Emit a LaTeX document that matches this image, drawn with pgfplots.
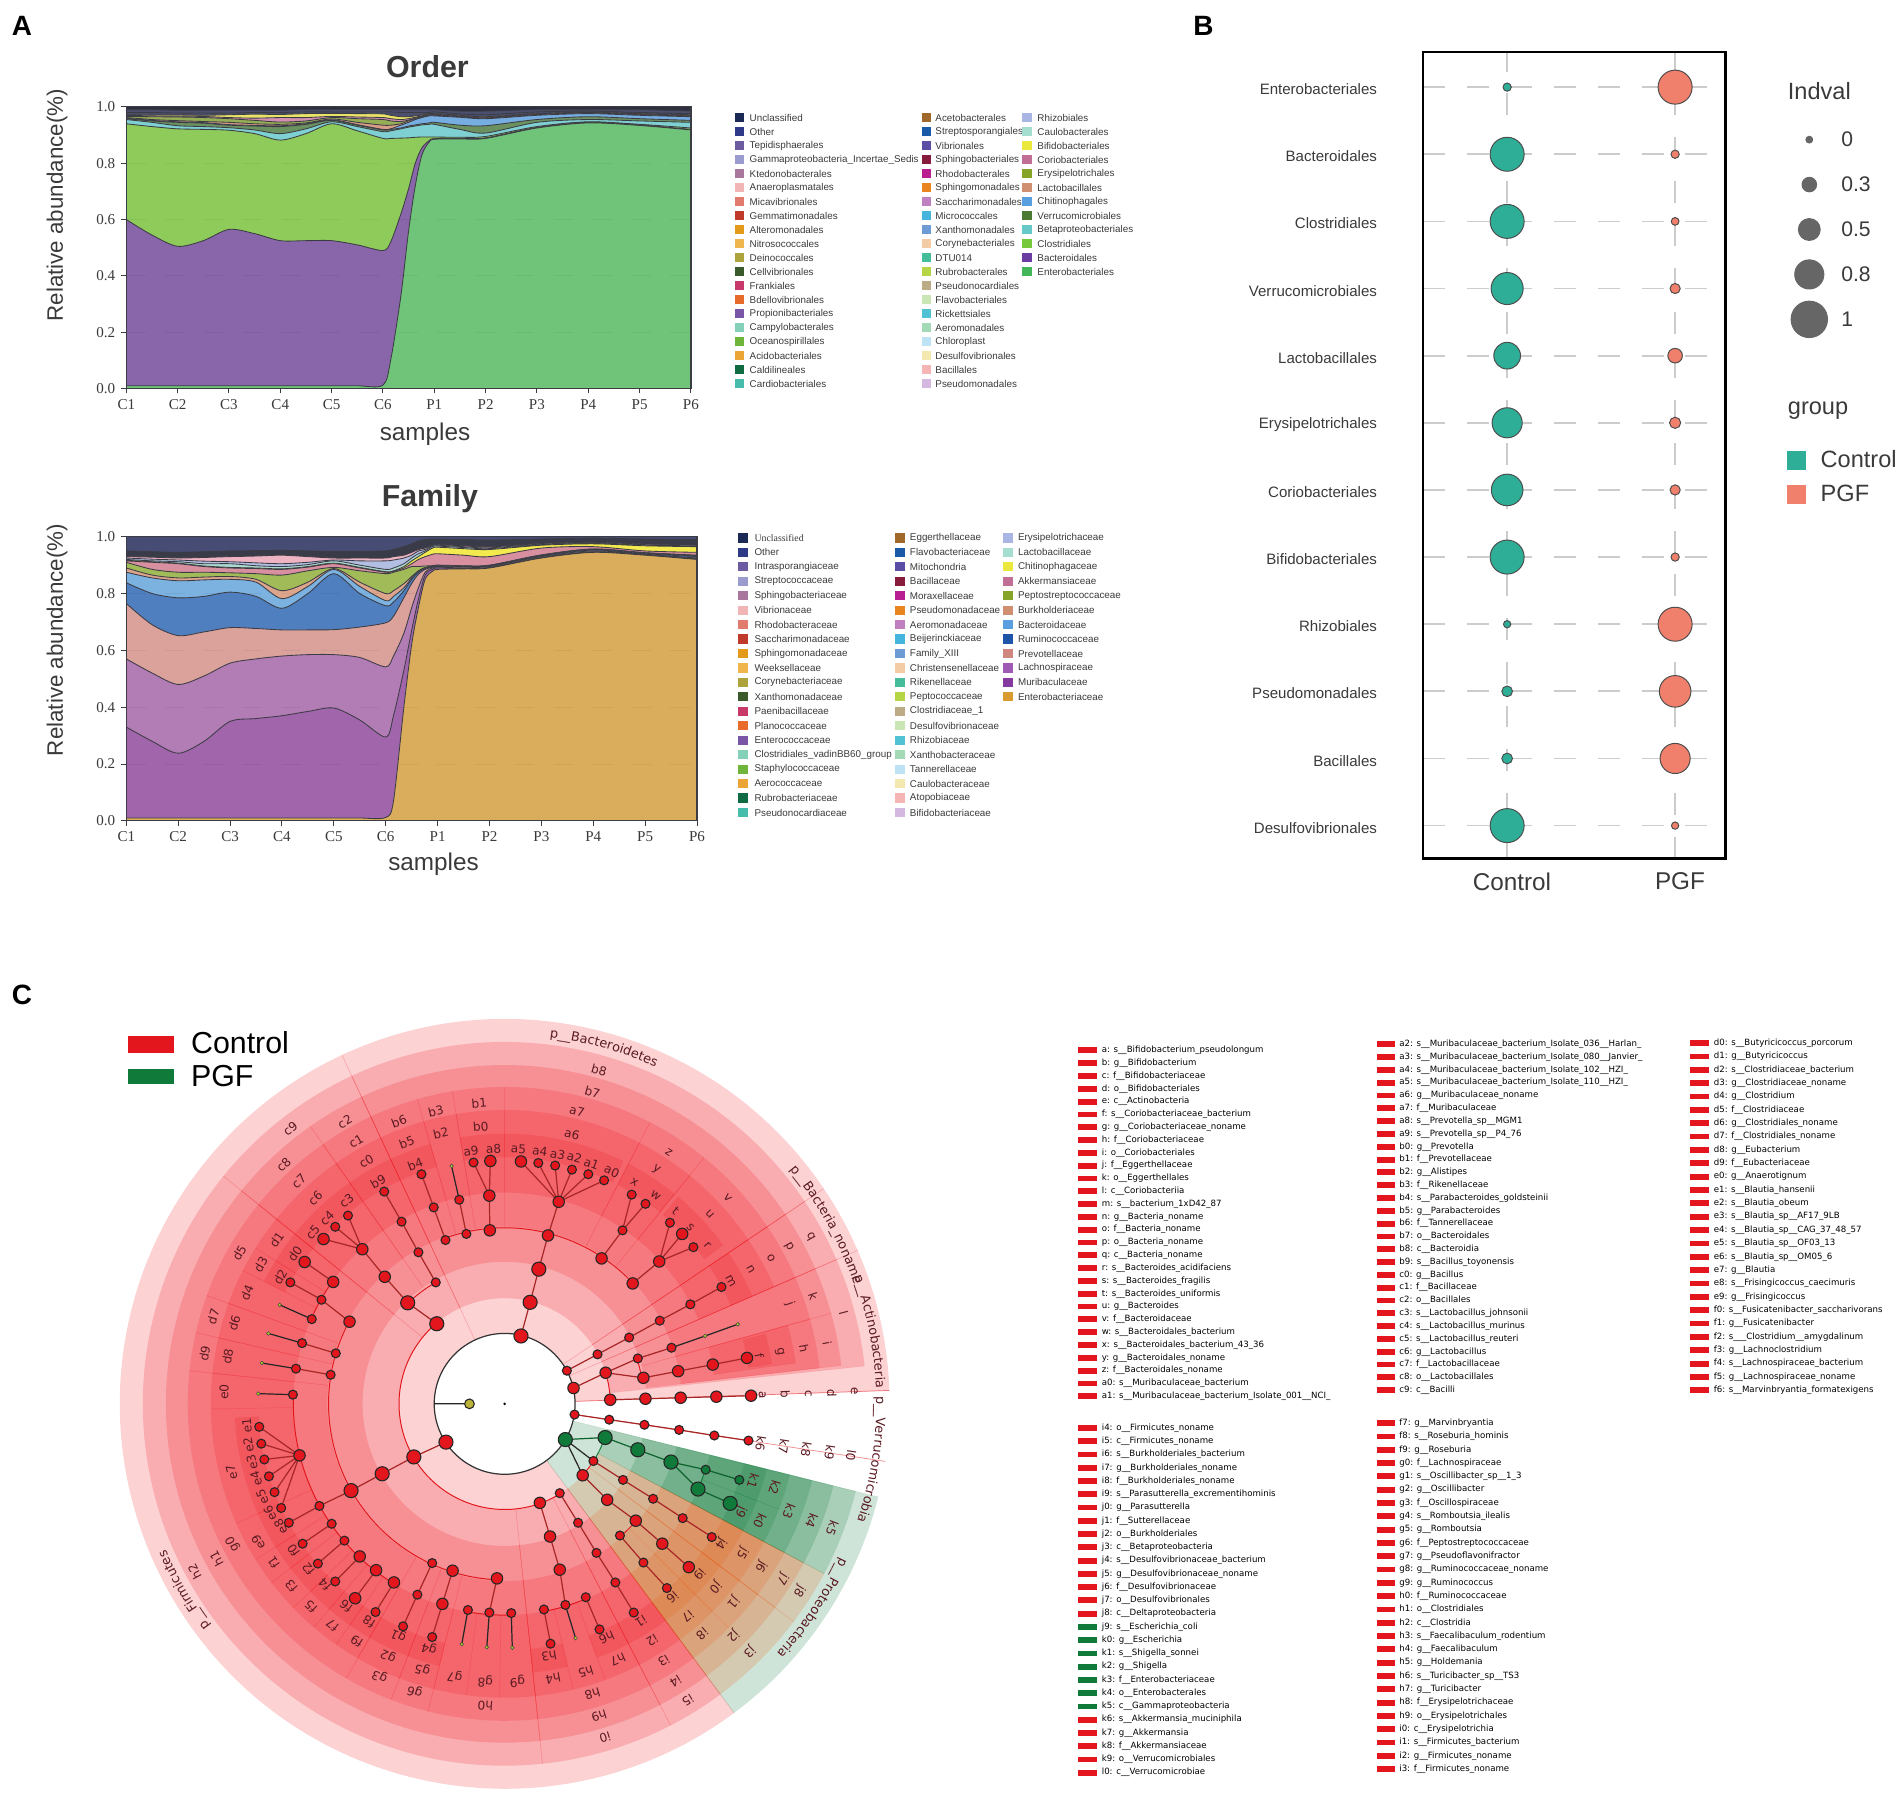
\documentclass[border=0pt]{standalone}
\usepackage{fontspec}
\setmainfont{Liberation Sans}
\newfontfamily\serif{Liberation Serif}
\newfontfamily\dv{DejaVu Sans}
\usepackage{pgfplots}
\usepackage{pgfplotstable}
\pgfplotsset{compat=1.18}
\usetikzlibrary{decorations.text}

\newcommand\fs[1]{\fontsize{#1}{#1}\selectfont}
\definecolor{ink}{HTML}{3A3A3A}
\definecolor{ln}{HTML}{3C3C44}
\definecolor{cr}{HTML}{E2161C}
\definecolor{crs}{HTML}{EE1C25}
\definecolor{crp}{HTML}{E8601C}
\definecolor{cg}{HTML}{107A3A}
\definecolor{maroon}{HTML}{5A1A22}
\definecolor{teal1}{HTML}{2FAE97}
\definecolor{sal}{HTML}{F07F6B}
\definecolor{topd}{HTML}{2E3040}
\definecolor{topn}{HTML}{464C73}

% cumulative tops of the layers, panel A Order
\pgfplotstableread{
x o0 o1 o2 o3 o4 o5 o6 o7 o8 o9 o10 o11
0 .010 .600 .940 .955 .958 .960 .962 .966 .970 .972 .980 .990
.5 .010 .545 .930 .945 .950 .952 .955 .965 .968 .971 .980 .990
1 .010 .505 .922 .933 .945 .947 .951 .964 .967 .971 .978 .988
1.5 .010 .525 .920 .930 .942 .944 .948 .962 .966 .970 .978 .988
2 .010 .565 .917 .926 .935 .937 .945 .958 .962 .972 .978 .988
2.5 .010 .550 .905 .918 .932 .934 .940 .952 .960 .974 .980 .988
3 .010 .525 .882 .905 .930 .933 .938 .946 .962 .973 .980 .988
3.5 .010 .525 .905 .922 .938 .940 .943 .950 .962 .976 .982 .990
4 .010 .525 .940 .947 .952 .954 .957 .962 .966 .977 .982 .990
4.5 .010 .510 .915 .930 .935 .937 .945 .958 .964 .976 .982 .990
5 .012 .490 .888 .912 .918 .920 .935 .955 .962 .975 .982 .990
5.15 .10 .52 .888 .915 .920 .922 .935 .950 .958 .97 .982 .990
5.35 .33 .62 .889 .922 .925 .935 .94 .948 .955 .965 .98 .99
5.5 .56 .71 .890 .928 .932 .945 .95 .953 .958 .965 .98 .99
5.63 .72 .80 .892 .932 .936 .955 .958 .96 .963 .968 .98 .99
5.76 .83 .855 .893 .936 .94 .962 .964 .966 .968 .971 .98 .99
5.9 .875 .88 .893 .938 .943 .968 .97 .972 .974 .976 .98 .99
6 .885 .887 .893 .938 .945 .968 .97 .972 .974 .976 .982 .99
6.5 .886 .888 .892 .92 .935 .963 .965 .966 .968 .97 .975 .985
7 .888 .890 .895 .907 .933 .958 .96 .961 .963 .965 .972 .985
8 .925 .927 .930 .945 .955 .97 .972 .973 .975 .976 .982 .99
9 .943 .945 .947 .955 .965 .976 .978 .979 .98 .981 .985 .99
10 .934 .936 .938 .950 .958 .97 .972 .973 .975 .976 .98 .99
11 .918 .920 .925 .945 .952 .965 .967 .968 .97 .972 .976 .985
}\ordertab

% same for Family
\pgfplotstableread{
x f0 f1 f2 f3 f4 f5 f6 f7 f8 f9 f10 f11 f12 f13
0 .010 .330 .570 .765 .838 .875 .890 .910 .915 .917 .920 .925 .930 .950
.5 .010 .280 .520 .690 .800 .855 .865 .885 .910 .912 .915 .921 .928 .947
1 .010 .238 .480 .652 .785 .845 .855 .875 .905 .907 .912 .918 .925 .945
1.5 .010 .280 .510 .665 .790 .848 .858 .875 .895 .897 .905 .914 .927 .947
2 .010 .350 .555 .680 .805 .850 .860 .873 .890 .892 .905 .912 .930 .950
2.5 .010 .360 .570 .677 .790 .840 .850 .870 .888 .890 .898 .908 .932 .951
3 .010 .370 .580 .672 .748 .782 .810 .865 .885 .887 .895 .905 .935 .952
3.5 .010 .385 .585 .672 .800 .825 .840 .880 .893 .895 .902 .910 .930 .950
4 .010 .397 .585 .673 .870 .885 .888 .892 .905 .907 .915 .918 .925 .948
4.5 .010 .355 .575 .682 .800 .825 .840 .880 .890 .892 .900 .915 .925 .948
5 .012 .295 .542 .697 .757 .775 .800 .870 .875 .877 .885 .915 .925 .950
5.15 .07 .37 .58 .72 .77 .79 .81 .875 .878 .880 .89 .918 .93 .955
5.35 .40 .53 .66 .785 .81 .82 .835 .885 .89 .895 .905 .925 .935 .965
5.5 .62 .67 .75 .835 .85 .855 .86 .895 .905 .915 .925 .935 .945 .975
5.63 .75 .78 .82 .868 .875 .878 .88 .895 .92 .93 .94 .95 .955 .985
5.76 .85 .865 .875 .885 .888 .89 .892 .897 .93 .945 .95 .955 .96 .99
5.9 .878 .885 .89 .893 .895 .896 .897 .898 .938 .96 .965 .968 .97 .992
6 .885 .89 .893 .895 .897 .898 .899 .90 .94 .963 .967 .97 .972 .992
6.5 .887 .888 .89 .893 .895 .896 .897 .898 .935 .958 .962 .965 .968 .99
7 .89 .891 .892 .895 .897 .898 .899 .90 .93 .955 .958 .961 .964 .988
8 .925 .926 .927 .93 .932 .934 .935 .936 .96 .97 .972 .974 .976 .992
9 .945 .946 .947 .95 .953 .955 .956 .957 .965 .975 .976 .978 .98 .995
10 .935 .936 .937 .938 .94 .942 .943 .944 .95 .968 .97 .972 .974 .992
11 .92 .921 .922 .925 .93 .932 .934 .935 .945 .965 .968 .97 .972 .99
}\familytab

\pgfplotsset{areaaxis/.style={
  scale only axis, xmin=0, xmax=11, ymin=0, ymax=1,
  xtick={0,...,11}, xticklabels={C1,C2,C3,C4,C5,C6,P1,P2,P3,P4,P5,P6},
  ytick={0,0.2,0.4,0.6,0.8,1}, yticklabels={0.0,0.2,0.4,0.6,0.8,1.0},
  tick align=outside, tick pos=left, major tick length=2pt,
  tick style={draw=ln,line width=.4pt},
  tick label style={font=\serif\fs{6.2},text=ink},
  xticklabel style={yshift=1pt}, yticklabel style={xshift=1pt},
  ymajorgrids, grid style={draw=black,draw opacity=.05,line width=.4pt,dash pattern=on 8pt off 8pt},
  axis on top, axis line style={draw=ln,line width=.5pt}}}
\newcommand\lay[3]{\xglobal\definecolor{L#3}{HTML}{#3}\addplot[fill=L#3,draw=ln,line width=.35pt,smooth,tension=.5] table[x=x,y=#1]{#2} \closedcycle;}

% sectors of the cladogram, radii in page px
\newcommand\sect[5]{%
  \fill[#1,fill opacity=.2] (#2:#4) arc[start angle=#2,end angle=#3,radius=#4] -- (#3:#5) arc[start angle=#3,end angle=#2,radius=#5] -- cycle;
  \draw[#1,draw opacity=.12,line width=.25pt] (#2:#4) -- (#2:#5) (#3:#4) -- (#3:#5);}
\newcommand\ring[4]{\foreach \a/\b in {#4}{\sect{#1}{\a}{\b}{#2}{#3}}}
\newcommand\arcr[4][cr]{\draw[#1,line width=.4pt] (#3:#2) arc[start angle=#3,end angle=#4,radius=#2];}
\newcommand\phy[4]{\path[decorate,decoration={text along path,text align=left,text={|\dv\fs{5.3}\color{maroon}|#4}}] (#2:#1) arc[start angle=#2,end angle=#3,radius=#1];}

\newcommand\leglist[6]{% xsw xtxt y0 dy fontcmd list
  \foreach \col/\nm [count=\i from 0] in {#6}{
    \pgfmathsetmacro\yy{#3+\i*#4}
    \definecolor{sw}{HTML}{\col}
    \fill[sw] (#1,\yy-3.8) rectangle (#1+8,\yy+3.8);
    \node[anchor=west,inner sep=0,text=ink,font=#5] at (#2,\yy) {\nm};
  }}
\newcommand\lefse[6]{% colour xsw xtxt y0 dy list
  \foreach \nm [count=\i from 0] in {#6}{
    \pgfmathsetmacro\yy{#4+\i*#5}
    \fill[#1] (#2,\yy-2.4) rectangle (#2+15,\yy+2.4);
    \node[anchor=west,inner sep=0,text=black,font=\dv\fs{3.55}] at (#3,\yy) {\nm};
  }}

\begin{document}
\catcode`\_=12
\begin{tikzpicture}[x=0.5pt,y=-0.5pt]
\path[use as bounding box] (0,0) rectangle (1568,1482);

% ---------- panel letters and titles
\node[font=\bfseries\fs{11.5}] at (18,21) {A};
\node[font=\bfseries\fs{11.5}] at (991,21) {B};
\node[font=\bfseries\fs{11.5}] at (18,819) {C};
\node[font=\bfseries\fs{12.5},text=ink] at (352,55) {Order};
\node[font=\bfseries\fs{12.5},text=ink] at (354,411) {Family};
\node[font=\fs{10},text=ink] at (350,358) {samples};
\node[font=\fs{10},text=ink] at (357,712) {samples};
\node[font=\fs{9.2},text=ink,rotate=90] at (47,169) {Relative abundance(\%)};
\node[font=\fs{9.2},text=ink,rotate=90] at (47,527) {Relative abundance(\%)};

% ---------- Order
\begin{axis}[areaaxis,at={(52pt,-160pt)},anchor=south west,width=232.5pt,height=116pt]
\addplot[fill=topd,draw=none] coordinates {(0,1) (11,1)} \closedcycle;
\lay{o11}{\ordertab}{4A4F6E}
\lay{o10}{\ordertab}{4A4F6E}
\lay{o9}{\ordertab}{EAE36A}
\lay{o8}{\ordertab}{D38FB0}
\lay{o7}{\ordertab}{96AE55}
\lay{o6}{\ordertab}{D99F86}
\lay{o5}{\ordertab}{76AEE2}
\lay{o4}{\ordertab}{6B9161}
\lay{o3}{\ordertab}{7FD0D2}
\lay{o2}{\ordertab}{8FCB5B}
\lay{o1}{\ordertab}{8966A9}
\lay{o0}{\ordertab}{70C47A}
\end{axis}

% ---------- Family
\begin{axis}[areaaxis,at={(52pt,-338pt)},anchor=south west,width=235pt,height=117pt]
\addplot[fill=topn,draw=none] coordinates {(0,1) (11,1)} \closedcycle;
\lay{f13}{\familytab}{3A3B48}
\lay{f12}{\familytab}{EFB4C4}
\lay{f11}{\familytab}{B3BEE3}
\lay{f10}{\familytab}{ACDAD2}
\lay{f9}{\familytab}{F2EA4E}
\lay{f8}{\familytab}{D88FA0}
\lay{f7}{\familytab}{A0BB58}
\lay{f6}{\familytab}{DCA58C}
\lay{f5}{\familytab}{7CB2E0}
\lay{f4}{\familytab}{4F7FBF}
\lay{f3}{\familytab}{DAA29B}
\lay{f2}{\familytab}{B27CB5}
\lay{f1}{\familytab}{A065AB}
\lay{f0}{\familytab}{D9AD5B}
\end{axis}

% ---------- legends of panel A
\leglist{605}{617}{97}{11.53}{\fs{4.05}}{1B2A55/Unclassified,2E3A87/Other,6C5BA0/Tepidisphaerales,9B9BD0/Gammaproteobacteria_Incertae_Sedis,A9779C/Ktedonobacterales,F2B5B5/Anaeroplasmatales,E07B6E/Micavibrionales,BF3A2B/Gemmatimonadales,E39A1A/Alteromonadales,F0B64E/Nitrosococcales,ADA33C/Deinococcales,3A5A2C/Cellvibrionales,C9386A/Frankiales,E86A2A/Bdellovibrionales,7A56A6/Propionibacteriales,85D0B8/Campylobacterales,6FB53A/Oceanospirillales,EBA535/Acidobacteriales,106B42/Caldilineales,45BDAA/Cardiobacteriales}
\leglist{759}{770}{97}{11.53}{\fs{4.05}}{A0692A/Acetobacterales,1B5AA6/Streptosporangiales,5A4FA5/Vibrionales,861B3C/Sphingobacteriales,B81E90/Rhodobacterales,E8851E/Sphingomonadales,C07FBF/Saccharimonadales,45B5DD/Micrococcales,6C9BD5/Xanthomonadales,F3CBA5/Corynebacteriales,45BD9A/DTU014,B5D544/Rubrobacterales,BCAC85/Pseudonocardiales,CBE6B5/Flavobacteriales,50C2D3/Rickettsiales,A3D9B5/Aeromonadales,BEE3F5/Chloroplast,F3E9B0/Desulfovibrionales,F6B5B5/Bacillales,D5B8DF/Pseudomonadales}
\leglist{842}{854}{97}{11.53}{\fs{4.05}}{A9B5E2/Rhizobiales,A5DDCF/Caulobacterales,EAE83A/Bifidobacteriales,C26F95/Coriobacteriales,86A528/Erysipelotrichales,CF8F70/Lactobacillales,5AA0E0/Chitinophagales,4B7A35/Verrucomicrobiales,66C9C7/Betaproteobacteriales,75C93A/Clostridiales,6B3DA0/Bacteroidales,45B55A/Enterobacteriales}
\leglist{608}{621}{443}{11.9}{\fs{4.05}}{1B2A55/{\serif Unclassified},2E3A87/Other,6C5BA0/Intrasporangiaceae,9B9BD0/Streptococcaceae,A9779C/Sphingobacteriaceae,F2B5B5/Vibrionaceae,E07B6E/Rhodobacteraceae,BF3A2B/Saccharimonadaceae,E39A1A/Sphingomonadaceae,F0B64E/Weeksellaceae,ADA33C/Corynebacteriaceae,3A5A2C/Xanthomonadaceae,C9386A/Paenibacillaceae,E86A2A/Planococcaceae,7A56A6/Enterococcaceae,85D0B8/Clostridiales_vadinBB60_group,6FB53A/Staphylococcaceae,EBA535/Aerococcaceae,106B42/Rubrobacteriaceae,45BDAA/Pseudonocardiaceae}
\leglist{737}{749}{443}{11.9}{\fs{4.05}}{A0692A/Eggerthellaceae,1B5AA6/Flavobacteriaceae,5A4FA5/Mitochondria,861B3C/Bacillaceae,B81E90/Moraxellaceae,E8851E/Pseudomonadaceae,C07FBF/Aeromonadaceae,45B5DD/Beijerinckiaceae,6C9BD5/Family_XIII,F3CBA5/Christensenellaceae,45BD9A/Rikenellaceae,B5D544/Peptococcaceae,BCAC85/Clostridiaceae_1,CBE6B5/Desulfovibrionaceae,50C2D3/Rhizobiaceae,A3D9B5/Xanthobacteraceae,BEE3F5/Tannerellaceae,F3E9B0/Caulobacteraceae,F6B5B5/Atopobiaceae,D5B8DF/Bifidobacteriaceae}
\leglist{826}{838}{443}{11.9}{\fs{4.05}}{A9B5E2/Erysipelotrichaceae,A5DDCF/Lactobacillaceae,EAE83A/Chitinophagaceae,C26F95/Akkermansiaceae,86A528/Peptostreptococcaceae,CF8F70/Burkholderiaceae,5AA0E0/Bacteroidaceae,1F55A8/Ruminococcaceae,D08680/Prevotellaceae,9E5AB5/Lachnospiraceae,8438A0/Muribaculaceae,D99A30/Enterobacteriaceae}

% ---------- panel B
\begin{axis}[at={(586pt,-353.5pt)},anchor=south west,scale only axis,width=124.5pt,height=332pt,
  xmin=.5,xmax=2.3,ymin=-.49,ymax=11.52,
  xtick={1,2},xticklabels={Control,PGF},
  ytick={0,...,11},
  yticklabels={Desulfovibrionales,Bacillales,Pseudomonadales,Rhizobiales,Bifidobacteriales,Coriobacteriales,Erysipelotrichales,Lactobacillales,Verrucomicrobiales,Clostridiales,Bacteroidales,Enterobacteriales},
  major tick length=0pt,
  xmajorgrids,ymajorgrids,
  grid style={draw=black!20,line width=.7pt,dash pattern=on 9pt off 9pt},
  axis line style={draw=black,line width=.9pt},
  yticklabel style={font=\fs{6.2},text=ink,xshift=-15.5pt,yshift=-.9pt},
  xticklabel style={font=\fs{10},text=ink,yshift=-2.3pt,xshift=2pt}]
\addplot[scatter,only marks,mark=*,scatter/use mapped color={draw=black!70,fill=teal1,line width=.4pt},
  visualization depends on={\thisrow{r} \as \rad},
  scatter/@pre marker code/.append style={/tikz/mark size=\rad}] table {
x y r
1 11 1.7
1 10 7.0
1 9 7.0
1 8 6.6
1 7 5.5
1 6 6.2
1 5 6.5
1 4 7.0
1 3 1.5
1 2 2.2
1 1 2.2
1 0 7.0
};
\addplot[scatter,only marks,mark=*,scatter/use mapped color={draw=black!70,fill=sal,line width=.4pt},
  visualization depends on={\thisrow{r} \as \rad},
  scatter/@pre marker code/.append style={/tikz/mark size=\rad}] table {
x y r
2 11 7.0
2 10 1.7
2 9 1.6
2 8 2.1
2 7 3.0
2 6 2.3
2 5 2.1
2 4 1.7
2 3 7.0
2 2 6.5
2 1 6.2
2 0 1.5
};
\end{axis}

% size legend of panel B, in page px
\begin{axis}[at={(730pt,-40pt)},anchor=north west,scale only axis,width=30pt,height=110pt,
  xmin=1460,xmax=1520,ymin=80,ymax=300,y dir=reverse,hide axis,clip=false]
\addplot[scatter,only marks,mark=*,scatter/use mapped color={draw=black!60,fill=black!60},
  visualization depends on={\thisrow{r} \as \rad},
  scatter/@pre marker code/.append style={/tikz/mark size=\rad}] table {
x y r
1490 115 1.4
1490 152 3.0
1490 189 4.5
1490 226 6.0
1490 263 7.5
};
\end{axis}
\node[anchor=west,inner sep=0,font=\fs{9.7},text=ink] at (1472,75) {Indval};
\foreach \v/\y in {0/115,0.3/152,0.5/189,0.8/226,1/263}
  \node[anchor=west,inner sep=0,font=\fs{8.7},text=ink] at (1516,\y) {\v};
\node[anchor=west,inner sep=0,font=\fs{9.7},text=ink] at (1472,338) {group};
\fill[teal1] (1472,371) rectangle (1487,387);
\fill[sal] (1472,399) rectangle (1487,415);
\node[anchor=west,inner sep=0,font=\fs{9.7},text=ink] at (1499,378) {Control};
\node[anchor=west,inner sep=0,font=\fs{9.7},text=ink] at (1499,406) {PGF};

% ---------- panel C legend
\fill[cr] (105,853) rectangle (143,867);
\fill[cg] (105,880) rectangle (143,893);
\node[anchor=west,inner sep=0,font=\fs{12.5}] at (157,859) {Control};
\node[anchor=west,inner sep=0,font=\fs{12.5}] at (157,886) {PGF};

% ---------- cladogram shading and arcs
\begin{scope}[shift={(415.6,1156.1)},x=0.5pt,y=0.5pt]
\ring{crs}{58}{317}{2/23.5,23.5/34,34/115,115/306.6}
\ring{cg}{58}{317}{-53.4/-14}
\ring{crs}{87}{298}{6/23.5,23.5/34,34/115,115/141,141/276,276/297.3,297.3/306.6}
\ring{crp}{87}{298}{-53.4/-37,-37/-28}
\ring{cg}{87}{298}{-28/-14}
\ring{crs}{117}{279}{6.5/15.5,15.5/23.5,23.5/34,34/115,115/125,125/141,141/276,276/297.3,297.3/306.6}
\ring{crp}{117}{279}{-53.4/-37,-37/-28}
\ring{cg}{117}{279}{-28/-14}
\ring{crs}{146}{261}{6.5/15.5,15.5/23.5,23.5/34,34/51,51/62.7,62.7/90,90/99.5,99.5/106,106/115,115/125,125/141,141/160,160/167,167/174,174/240,240/249,249/256,256/276,276/297.3,297.3/306.6}
\ring{crp}{146}{261}{-53.4/-45,-45/-37,-37/-28}
\ring{cg}{146}{261}{-28/-14}
\ring{crs}{174}{242}{8/15.5,23.5/34,34/51,51/62.7,62.7/90,90/99.5,99.5/106,106/115,115/125,125/141,141/148,148/153,153/160,160/167,167/174,174/181,181/204,204/212,212/217.5,217.5/224,224/229.5,229.5/235,235/240,240/249,249/256,256/262.5,262.5/269,269/276,276/283.5,283.5/290,290/297.3,297.3/306.6}
\ring{crp}{174}{242}{-53.4/-45,-45/-37,-37/-28}
\ring{cg}{174}{242}{-28/-21,-21/-14}
\ring{crs}{203}{222.5}{8.5/15,23.5/34,36/50,51/62.7,64/90,90/99.5,106/115,115/125,125/141,141/148,148/153,183/204,204/212,212/217.5,217.5/224,224/229.5,229.5/235,235/240,240/249,249/256,276/283.5,290/297.3,297.3/306.6}
\ring{crp}{203}{222.5}{-53.4/-45,-45/-37,-37/-28}
\ring{cg}{203}{222.5}{-28/-21,-21/-14}
% thin clades that stay unshaded
\draw[cr,draw opacity=.5,line width=.3pt] (2:58) -- (2:317) (-8.6:58) -- (-8.6:317);
% connecting arcs
\arcr{87}{130.3}{301.7}
\arcr{87}{17}{2.2}
\arcr{87}{-32.8}{-42.4}
\arcr[cg]{87}{-18.5}{-32.8}
\arcr{115}{119.6}{133.8}
\arcr{115}{18.8}{10.6}
\arcr{145}{110.1}{43.2}
\arcr{145}{152.1}{267.5}
\arcr{145}{-41.7}{-48.8}
\arcr{174}{144.6}{156.3}
\arcr{174}{177.5}{238.2}
\arcr{174}{259.9}{271.8}
\arcr{174}{-79.2}{-67.2}
\arcr[cg]{174}{-18.1}{-23.8}
\draw[black!80,line width=.5pt] (0,0) circle[radius=58];
\phy{304}{83}{60}{p__Bacteroidetes}
\phy{304}{39.5}{10}{p__Bacteria_noname}
\phy{306}{20}{0}{p__Actinobacteria}
\phy{306}{1.2}{-25}{p__Verrucomicrobia}
\phy{304}{-24.6}{-50}{p__Proteobacteria}
\phy{304}{217}{195}{p__Firmicutes}
\end{scope}

% ---------- cladogram tree, zoom px of the reference
\begin{axis}[at={(41.2pt,-407.65pt)},anchor=north west,scale only axis,width=329.4pt,height=334.07pt,
  xmin=0,xmax=1568,ymin=0,ymax=1590,y dir=reverse,hide axis,clip=false,unbounded coords=jump]
\addplot[draw=black!85,line width=.5pt] coordinates {(655,811) (724,811) (nan,nan)
 (704,411) (689,345) (nan,nan) (1120,701) (1186,678) (1250,655) (nan,nan)
 (415,645) (352,617) (nan,nan) (396,692) (330,673) (nan,nan) (384,742) (317,731) (nan,nan) (378,793) (310,791) (nan,nan)
 (721,1215) (709,1282) (nan,nan) (763,1220) (758,1288) (nan,nan) (806,1221) (808,1289) (nan,nan) (912,1205) (932,1270) (nan,nan)
 (912,881) (967,923) (nan,nan) (912,881) (946,951)};
\addplot[draw=cg!80!black,line width=.5pt] coordinates {(912,881) (990,877) (nan,nan)
 (990,877) (1054,901) (1119,925) (1187,940) (1253,960) (nan,nan) (1119,925) (1172,978) (1235,1006)};
\addplot[draw=red!60!black!85!white,line width=.5pt] coordinates {
 (825,678) (843,612) (860,547) (878,481) (899,415) (825,336) (nan,nan) (899,415) (859,339) (nan,nan) (899,415) (892,344) (nan,nan)
 (899,415) (925,352) (nan,nan) (899,415) (957,361) (nan,nan) (899,415) (988,373) (nan,nan)
 (764,471) (763,403) (732,338) (nan,nan) (763,403) (765,335) (nan,nan) (718,478) (704,411) (nan,nan)
 (677,490) (654,426) (630,361) (nan,nan) (983,526) (1024,471) (1042,401) (nan,nan) (1024,471) (1069,419) (nan,nan)
 (1044,575) (1096,532) (1117,456) (nan,nan) (1096,532) (1141,478) (nan,nan) (1096,532) (1163,504) (nan,nan)
 (915,746) (975,714) (1037,681) (1097,648) (1157,616) (1218,582) (nan,nan)
 (928,780) (991,750) (1054,722) (1120,701) (nan,nan) (991,750) (1065,760) (1133,747) (1201,734) (1268,721) (nan,nan)
 (1000,803) (1069,801) (1138,799) (1208,797) (1276,795) (nan,nan)
 (930,832) (998,842) (1067,852) (1135,862) (1204,873) (1271,883) (nan,nan)
 (967,923) (1025,960) (1084,997) (1142,1035) (1199,1072) (nan,nan)
 (946,951) (994,999) (1050,1040) (1102,1085) (1154,1131) (nan,nan) (1019,1069) (1065,1122) (1111,1172) (nan,nan)
 (901,986) (937,1044) (973,1103) (1010,1161) (1046,1220) (nan,nan)
 (862,1005) (882,1071) (901,1136) (912,1205) (nan,nan) (870,1214) (883,1281) (nan,nan) (952,1190) (979,1253) (nan,nan)
 (678,886) (615,915) (553,948) (492,981) (430,1011) (370,1044) (nan,nan)
 (660,654) (603,613) (558,562) (514,508) (486,442) (nan,nan) (514,508) (461,464) (nan,nan) (514,508) (438,488) (nan,nan)
 (658,573) (624,514) (591,454) (557,395) (nan,nan)
 (489,650) (434,607) (373,573) (nan,nan) (457,572) (401,533) (nan,nan)
 (462,712) (396,692) (nan,nan) (452,754) (384,742) (nan,nan)
 (391,912) (312,856) (nan,nan) (391,912) (316,889) (nan,nan) (391,912) (322,920) (nan,nan) (391,912) (331,953) (nan,nan) (391,912) (342,984) (nan,nan) (391,912) (355,1015) (nan,nan)
 (454,1046) (397,1085) (nan,nan) (479,1079) (427,1124) (nan,nan) (509,1110) (461,1159) (nan,nan) (541,1137) (500,1192) (nan,nan) (576,1161) (540,1219) (nan,nan)
 (651,1123) (622,1185) (594,1247) (nan,nan) (691,1138) (671,1203) (651,1268) (nan,nan) (778,1153) (763,1220)};
% nodes by size
\addplot[only marks,mark=*,mark size=2.9pt,mark options={fill=cr,draw=black!85,line width=.45pt}] coordinates {
 (825,678) (843,612) (860,547) (678,886) (615,915) (553,948) (492,981) (660,654) (603,613)};
\addplot[only marks,mark=*,mark size=2.35pt,mark options={fill=cr,draw=black!85,line width=.45pt}] coordinates {
 (878,481) (763,403) (764,471) (1044,575) (1096,532) (899,415) (558,562) (514,508) (457,572) (489,650)
 (991,750) (928,780) (1000,803) (1069,801) (1138,799) (1208,797) (1276,795) (1065,760) (1133,747) (1201,734) (1268,721)
 (391,912) (862,1005) (882,1071) (901,1136) (946,951) (994,999) (1050,1040) (1102,1085) (1154,1131)
 (500,1192) (541,1137) (576,1161) (509,1110) (778,1153) (691,1138) (671,1203) (983,526) (438,488) (401,533) (825,336) (765,335) (1141,478)};
\addplot[only marks,mark=*,mark size=1.85pt,mark options={fill=cr,draw=black!85,line width=.45pt}] coordinates {
 (859,339) (892,344) (925,352) (957,361) (988,373) (732,338) (718,478) (704,411) (677,490) (654,426) (630,361)
 (1024,471) (1042,401) (1069,419) (1117,456) (1163,504) (915,746) (975,714) (1037,681) (1097,648) (1157,616) (1218,582)
 (1054,722) (1120,701) (930,832) (998,842) (1067,852) (1135,862) (1204,873) (1271,883)
 (967,923) (1025,960) (1084,997) (1142,1035) (1199,1072) (1019,1069) (1065,1122) (1111,1172)
 (901,986) (937,1044) (973,1103) (1010,1161) (1046,1220) (870,1214) (883,1281) (912,1205) (952,1190) (979,1253)
 (430,1011) (370,1044) (486,442) (461,464) (658,573) (624,514) (591,454) (557,395)
 (434,607) (373,573) (415,645) (462,712) (396,692) (452,754) (384,742) (378,793)
 (312,856) (316,889) (322,920) (331,953) (342,984) (355,1015)
 (454,1046) (397,1085) (479,1079) (427,1124) (461,1159) (540,1219)
 (651,1123) (622,1185) (594,1247) (651,1268) (721,1215) (763,1220) (806,1221)};
\addplot[only marks,mark=*,mark size=2.9pt,mark options={fill=cg,draw=black!85,line width=.45pt}] coordinates {
 (912,881) (990,877) (1054,901) (1119,925) (1172,978) (1235,1006)};
\addplot[only marks,mark=*,mark size=1.85pt,mark options={fill=cg,draw=black!85,line width=.45pt}] coordinates {(1187,940) (1253,960)};
\addplot[only marks,mark=*,mark size=.75pt,mark options={fill=yellow!70!green,draw=black!70,line width=.25pt}] coordinates {
 (689,345) (1186,678) (1250,655) (352,617) (330,673) (317,731) (310,791) (709,1282) (758,1288) (808,1289) (932,1270)};
\addplot[only marks,mark=*,mark size=2pt,mark options={fill=yellow!70!black,draw=black!85,line width=.45pt}] coordinates {(724,811)};
\addplot[only marks,mark=*,mark size=.3pt,mark options={fill=black,draw=none}] coordinates {(793,811)};
\end{axis}

% ---------- cladogram letters, turned away from the centre
\begin{scope}[shift={(82.4,815.3)},x=0.2101pt,y=-0.2101pt]
\foreach \t/\x/\y in {a/1298/793,b/1343/792,c/1388/792,d/1434/790,e/1478/787,f/1292/717,g/1332/710,h/1380/702,i/1425/693,j/1352/615,k/1398/600,l/1457/633,m/1236/570,n/1275/548,o/1315/525,p/1350/503,q/1392/483,r/1190/500,s/1157/465,t/1128/433,u/1195/440,v/1230/408,w/1089/403,x/1047/378,y/1090/352,z/1115/318,a0/1003/355,a1/963/340,a2/930/328,a3/897/322,a4/862/316,a5/820/311,a6/925/282,a7/935/238,a8/771/311,a9/727/315,b0/746/268,b1/743/222,b2/668/280,b3/658/237,b4/618/342,b5/601/298,b6/586/258,b7/965/200,b8/978/157,b9/545/375,c0/522/336,c1/502/297,c2/480/258,c3/483/413,c4/445/447,c5/417/475,c6/422/408,c7/390/375,c8/360/342,c9/373/272,d0/382/517,d1/346/490,d2/353/562,d3/315/538,d4/288/593,d5/273/515,d6/263/652,d7/222/640,d8/250/718,d9/205/712,e0/243/788,e1/288/853,e2/291/892,e3/298/926,e4/306/958,e5/318/993,e6/333/1025,e7/258/945,e8/354/1052,e9/310/1082,f0/379/1098,f1/340/1122,f2/408/1135,f3/375/1168,f4/440/1165,f5/413/1208,f6/482/1208,f7/455/1245,f8/527/1238,f9/503/1277,g0/260/1085,g1/585/1265,g2/565/1305,g3/548/1345,g4/645/1290,g5/632/1332,g6/617/1375,g7/695/1345,g8/755/1355,g9/818/1355,h0/755/1403,h1/228/1115,h2/185/1140,h3/880/1305,h4/888/1350,h5/952/1337,h6/993/1270,h7/1015/1313,h8/965/1380,h9/978/1422,i0/990/1465,i1/1060/1238,i2/1082/1275,i3/1105/1315,i4/1128/1355,i5/1152/1392,i6/1122/1190,i7/1152/1228,i8/1180/1262,i9/1175/1145,j0/1205/1170,j1/1240/1200,j2/1240/1265,j3/1272/1297,j4/1216/1085,j5/1258/1103,j6/1295/1130,j7/1337/1155,j8/1370/1178,j9/1255/1022,k0/1293/1040,k1/1280/962,k2/1322/975,k3/1350/1022,k4/1395/1040,k5/1435/1055,k6/1295/888,k7/1340/895,k8/1384/901,k9/1430/906,l0/1472/912}
{\pgfmathsetmacro\a{atan2(811-\y,\x-793)-90}
 \node[rotate=\a,inner sep=0,font=\dv\fs{5},text=maroon] at (\x,\y) {\t};}
\end{scope}

% ---------- LEfSe key
\lefse{cr}{888}{907}{865}{10.55}{a: s__Bifidobacterium_pseudolongum,b: g__Bifidobacterium,c: f__Bifidobacteriaceae,d: o__Bifidobacteriales,e: c__Actinobacteria,f: s__Coriobacteriaceae_bacterium,g: g__Coriobacteriaceae_noname,h: f__Coriobacteriaceae,i: o__Coriobacteriales,j: f__Eggerthellaceae,k: o__Eggerthellales,l: c__Coriobacteriia,m: s__bacterium_1xD42_87,n: g__Bacteria_noname,o: f__Bacteria_noname,p: o__Bacteria_noname,q: c__Bacteria_noname,r: s__Bacteroides_acidifaciens,s: s__Bacteroides_fragilis,t: s__Bacteroides_uniformis,u: g__Bacteroides,v: f__Bacteroidaceae,w: s__Bacteroidales_bacterium,x: s__Bacteroidales_bacterium_43_36,y: g__Bacteroidales_noname,z: f__Bacteroidales_noname,a0: s__Muribaculaceae_bacterium,a1: s__Muribaculaceae_bacterium_Isolate_001__NCI_}
\lefse{cr}{1134}{1152}{860}{10.55}{a2: s__Muribaculaceae_bacterium_Isolate_036__Harlan_,a3: s__Muribaculaceae_bacterium_Isolate_080__Janvier_,a4: s__Muribaculaceae_bacterium_Isolate_102__HZI_,a5: s__Muribaculaceae_bacterium_Isolate_110__HZI_,a6: g__Muribaculaceae_noname,a7: f__Muribaculaceae,a8: s__Prevotella_sp__MGM1,a9: s__Prevotella_sp__P4_76,b0: g__Prevotella,b1: f__Prevotellaceae,b2: g__Alistipes,b3: f__Rikenellaceae,b4: s__Parabacteroides_goldsteinii,b5: g__Parabacteroides,b6: f__Tannerellaceae,b7: o__Bacteroidales,b8: c__Bacteroidia,b9: s__Bacillus_toyonensis,c0: g__Bacillus,c1: f__Bacillaceae,c2: o__Bacillales,c3: s__Lactobacillus_johnsonii,c4: s__Lactobacillus_murinus,c5: s__Lactobacillus_reuteri,c6: g__Lactobacillus,c7: f__Lactobacillaceae,c8: o__Lactobacillales,c9: c__Bacilli}
\lefse{cr}{1392}{1411}{859}{11}{d0: s__Butyricicoccus_porcorum,d1: g__Butyricicoccus,d2: s__Clostridiaceae_bacterium,d3: g__Clostridiaceae_noname,d4: g__Clostridium,d5: f__Clostridiaceae,d6: g__Clostridiales_noname,d7: f__Clostridiales_noname,d8: g__Eubacterium,d9: f__Eubacteriaceae,e0: g__Anaerotignum,e1: s__Blautia_hansenii,e2: s__Blautia_obeum,e3: s__Blautia_sp__AF17_9LB,e4: s__Blautia_sp__CAG_37_48_57,e5: s__Blautia_sp__OF03_13,e6: s__Blautia_sp__OM05_6,e7: g__Blautia,e8: s__Frisingicoccus_caecimuris,e9: g__Frisingicoccus,f0: s__Fusicatenibacter_saccharivorans,f1: g__Fusicatenibacter,f2: s___Clostridium__amygdalinum,f3: g__Lachnoclostridium,f4: s__Lachnospiraceae_bacterium,f5: g__Lachnospiraceae_noname,f6: s__Marvinbryantia_formatexigens}
\lefse{cr}{888}{907}{1176}{10.92}{i4: o__Firmicutes_noname,i5: c__Firmicutes_noname,i6: s__Burkholderiales_bacterium,i7: g__Burkholderiales_noname,i8: f__Burkholderiales_noname,i9: s__Parasutterella_excrementihominis,j0: g__Parasutterella,j1: f__Sutterellaceae,j2: o__Burkholderiales,j3: c__Betaproteobacteria,j4: s__Desulfovibrionaceae_bacterium,j5: g__Desulfovibrionaceae_noname,j6: f__Desulfovibrionaceae,j7: o__Desulfovibrionales,j8: c__Deltaproteobacteria}
\lefse{cg}{888}{907}{1339.8}{10.92}{j9: s__Escherichia_coli,k0: g__Escherichia,k1: s__Shigella_sonnei,k2: g__Shigella,k3: f__Enterobacteriaceae,k4: o__Enterobacterales,k5: c__Gammaproteobacteria}
\lefse{cr}{888}{907}{1416.2}{10.92}{k6: s__Akkermansia_muciniphila,k7: g__Akkermansia,k8: f__Akkermansiaceae,k9: o__Verrucomicrobiales,l0: c__Verrucomicrobiae}
\lefse{cr}{1134}{1152}{1172}{10.96}{f7: g__Marvinbryantia,f8: s__Roseburia_hominis,f9: g__Roseburia,g0: f__Lachnospiraceae,g1: s__Oscillibacter_sp__1_3,g2: g__Oscillibacter,g3: f__Oscillospiraceae,g4: s__Romboutsia_ilealis,g5: g__Romboutsia,g6: f__Peptostreptococcaceae,g7: g__Pseudoflavonifractor,g8: g__Ruminococcaceae_noname,g9: g__Ruminococcus,h0: f__Ruminococcaceae,h1: o__Clostridiales,h2: c__Clostridia,h3: s__Faecalibaculum_rodentium,h4: g__Faecalibaculum,h5: g__Holdemania,h6: s__Turicibacter_sp__TS3,h7: g__Turicibacter,h8: f__Erysipelotrichaceae,h9: o__Erysipelotrichales,i0: c__Erysipelotrichia,i1: s__Firmicutes_bacterium,i2: g__Firmicutes_noname,i3: f__Firmicutes_noname}
\end{tikzpicture}
\end{document}
